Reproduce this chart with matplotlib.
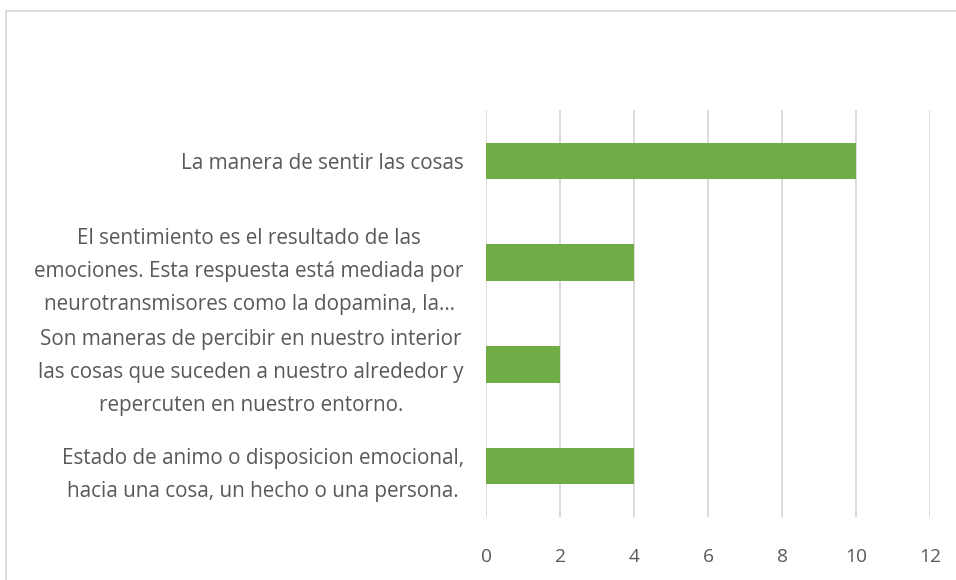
import matplotlib
matplotlib.use("Agg")
import matplotlib.pyplot as plt
from matplotlib.patches import Rectangle

categories = [
    "La manera de sentir las cosas",
    "El sentimiento es el resultado de las\nemociones. Esta respuesta está mediada por\nneurotransmisores como la dopamina, la…",
    "Son maneras de percibir en nuestro interior\nlas cosas que suceden a nuestro alrededor y\nrepercuten en nuestro entorno.",
    "Estado de animo o disposicion emocional,\nhacia una cosa, un hecho o una persona.",
]
values = [10, 4, 2, 4]
xticks = [0, 2, 4, 6, 8, 10, 12]

plt.rcParams['font.family'] = ['Open Sans', 'DejaVu Sans']

fig = plt.figure(figsize=(9.56, 5.8), dpi=100)
ax = fig.add_axes([486/956, 1-517/580, (930-486)/956, (517-110)/580])

ypos = list(range(len(categories)))
ax.barh(ypos, values, height=0.36, color="#70AD47", zorder=3)
ax.set_ylim(len(categories)-0.5, -0.5)
ax.set_xlim(0, 12)
ax.set_xticks(xticks)
ax.set_xticklabels([str(t) for t in xticks], fontsize=13.8, color="#595959")
ax.set_yticks(ypos)
ax.set_yticklabels(categories, fontsize=14.9, color="#595959", ha="right",
                   multialignment="center", linespacing=1.75)
ax.tick_params(axis="both", length=0)
ax.tick_params(axis="x", pad=22)
ax.tick_params(axis="y", pad=16)
ax.grid(axis="x", color="#D9D9D9", linewidth=1.3, zorder=0)
for s in ax.spines.values():
    s.set_visible(False)

fig.patches.append(Rectangle((6/956, -0.1), 1.2, 1.1 - 11/580,
                             transform=fig.transFigure, fill=False,
                             edgecolor="#D9D9D9", linewidth=1.3))
fig.savefig("out.png", dpi=100)
